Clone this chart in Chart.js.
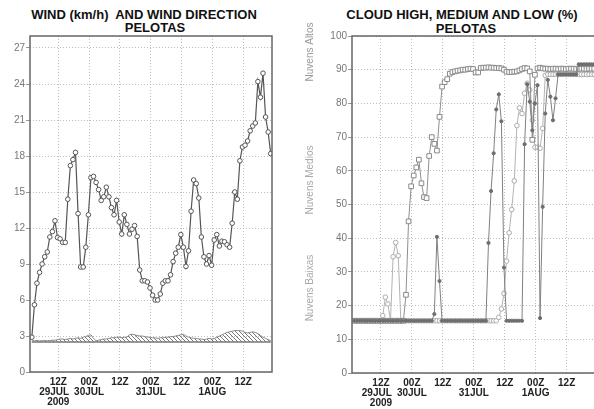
<!DOCTYPE html>
<html>
<head>
<meta charset="utf-8">
<script src="https://cdn.jsdelivr.net/npm/chart.js@4.4.1/dist/chart.umd.min.js"></script>
<style>
  body { margin: 0; background: #fff; overflow: hidden; width: 594px; height: 409px; position: relative; font-family: "Liberation Sans", Arial, sans-serif; }
  canvas { position: absolute; top: 0; }
  .title { position: absolute; width: 300px; text-align: center; font-weight: bold; font-size: 13px; line-height: 14px; color: #111; white-space: pre; }
</style>
</head>
<body>
<div class="title" style="left:-6px;top:8px">WIND (km/h)  AND WIND DIRECTION</div>
<div class="title" style="left:5px;top:21px">PELOTAS</div>
<div class="title" style="left:312px;top:8px">CLOUD HIGH, MEDIUM AND LOW (%)</div>
<div class="title" style="left:316px;top:22px">PELOTAS</div>
<canvas id="wind" width="290" height="409" style="left:0"></canvas>
<canvas id="cloud" width="304" height="409" style="left:296px"></canvas>
<script>
// hourly model output, hours counted from 00Z 29JUL 2009
const START = 1.7;
const tickHours = [12, 24, 36, 48, 60, 72, 84];
const tickLabels = [['12Z', '29JUL   ', '2009'], ['00Z', '30JUL'], ['12Z'], ['00Z', '31JUL'], ['12Z'], ['00Z', '1AUG'], ['12Z']];
const windTicks = [0, 3, 6, 9, 12, 15, 18, 21, 24, 27];
const cloudTicks = [0, 10, 20, 30, 40, 50, 60, 70, 80, 90, 100];
const cloudNames = ['Nuvens Altos', 'Nuvens Medios', 'Nuvens Baixas'];

// wind speed (km/h)
const wind = [2.9, 5.6, 7.4, 8.3, 9.0, 9.6, 10.0, 11.25, 11.7, 12.6,
  11.2, 11.1, 10.8, 10.8, 14.4, 17.2, 17.7, 18.3, 13.2, 8.75,
  8.75, 10.4, 13.1, 16.2, 16.3, 15.8, 15.2, 14.3, 14.6, 15.4,
  14.6, 13.7, 13.1, 14.3, 12.5, 11.5, 13.1, 12.3, 11.5, 11.9,
  12.2, 11.3, 8.5, 7.6, 7.6, 7.5, 7.0, 6.4, 6.0, 6.0,
  6.5, 7.4, 7.6, 7.6, 8.1, 9.2, 9.9, 10.4, 11.45, 10.4,
  8.8, 10.1, 13.4, 16.0, 15.7, 14.5, 11.25, 9.6, 9.0, 9.7,
  8.9, 11.0, 11.45, 10.5, 10.9, 10.85, 10.6, 10.4, 12.4, 15.0,
  14.4, 17.6, 18.75, 18.9, 19.25, 20.1, 20.5, 20.75, 24.2, 22.9,
  24.9, 21.25, 20.0, 18.2];

// top of the wind direction band (base at 2.5)
const dirBase = 2.5;
const windDir = [2.6, 2.6, 2.62, 2.6, 2.6, 2.62, 2.6, 2.62, 2.65, 2.65,
  2.7, 2.75, 2.75, 2.7, 2.75, 2.8, 2.75, 2.8, 2.85, 2.8,
  2.9, 2.95, 3.05, 3.1, 2.8, 2.6, 2.65, 2.7, 2.75, 2.75,
  2.8, 2.85, 2.85, 2.9, 2.9, 2.85, 2.9, 2.9, 3.1, 3.15,
  3.1, 3.05, 3.0, 3.0, 2.95, 2.9, 2.9, 2.85, 2.85, 2.8,
  2.85, 2.85, 2.9, 2.9, 2.95, 2.95, 3.0, 3.05, 3.1, 3.15,
  3.0, 2.9, 2.85, 2.8, 2.8, 2.75, 2.75, 2.7, 2.75, 2.8,
  2.75, 2.8, 2.9, 3.0, 3.1, 3.2, 3.3, 3.35, 3.4, 3.45,
  3.45, 3.45, 3.4, 3.3, 3.25, 3.3, 3.35, 3.3, 3.2, 3.05,
  2.9, 2.8, 2.7, 2.6];

// cloud cover (%)
const cloudHigh = [15.5, 15.5, 15.5, 15.5, 15.5, 15.5, 15.5, 15.5, 15.5, 15.5,
  15.5, 15.5, 15.5, 15.5, 15.5, 15.5, 15.5, 15.5, 15.5, 15.5,
  23.2, 45, 55.4, 58.6, 61, 63.3, 56.3, 52.2, 51.9, 64.4,
  70, 68, 66, 76, 85, 86.3, 87.2, 88.8, 89.3, 89.5,
  89.7, 89.8, 90, 90, 90.2, 90.3, 90.2, 89.2, 89.2, 90.5,
  90.6, 90.6, 90.7, 90.6, 90.6, 90.5, 90.5, 90.4, 90, 89.4,
  89.3, 89.3, 89.4, 89.5, 89.8, 90.2, 90.5, 90.4, 89.5, 69.2,
  88.5, 90.4, 90.6, 90.4, 90.3, 90.3, 90.2, 90.3, 90.3, 90.2,
  90.3, 90.3, 90.2, 90.3, 90.3, 90.3, 90.2, 90.3, 90.3, 90.3,
  90.2, 90.3, 90.3, 90.3];
const cloudMedium = [15.5, 15.5, 15.5, 15.5, 15.5, 15.5, 15.5, 15.5, 15.5, 15.5,
  15.5, 17.0, 22.5, 20.5, 15.5, 34.5, 38.7, 34.8, 15.5, 15.5,
  15.5, 15.5, 15.5, 15.5, 15.5, 15.5, 15.5, 15.5, 15.5, 15.5,
  15.5, 15.5, 15.5, 15.5, 15.5, 15.5, 15.5, 15.5, 15.5, 15.5,
  15.5, 15.5, 15.5, 15.5, 15.5, 15.5, 15.5, 15.5, 15.5, 15.5,
  15.5, 15.5, 15.5, 15.5, 15.5, 15.5, 16.5, 19, 23.6, 33.2,
  41.6, 48.5, 57, 73.4, 78.7, 77, 83, 86, 84, 75,
  67, 67, 66.7, 72.6, 88.3, 88.6, 88.6, 88.6, 88.6, 88.6,
  88.6, 88.6, 88.6, 88.6, 88.6, 88.6, 88.6, 88.6, 88.6, 88.6,
  88.6, 88.6, 88.6, 88.6];
const cloudLow = [15.5, 15.5, 15.5, 15.5, 15.5, 15.5, 15.5, 15.5, 15.5, 15.5,
  15.5, 15.5, 15.5, 15.5, 15.5, 15.5, 15.5, 15.5, 15.5, 15.5,
  15.5, 15.5, 15.5, 15.5, 15.5, 15.5, 15.5, 15.5, 15.5, 15.5,
  15.5, 17.5, 40.4, 27.3, 15.5, 15.5, 15.5, 15.5, 15.5, 15.5,
  15.5, 15.5, 15.5, 15.5, 15.5, 15.5, 15.5, 15.5, 15.5, 15.5,
  15.5, 15.5, 38.6, 54, 65.2, 78.2, 82.7, 74.7, 31.3, 15.5,
  15.5, 15.5, 15.5, 15.5, 15.5, 15.5, 67.9, 85.7, 80.5, 72,
  80, 85.4, 16.3, 49.3, 77, 87, 82, 75, 81.5, 88.6,
  88.6, 88.6, 88.6, 88.6, 88.6, 88.6, 88.6, 91.6, 91.6, 91.6,
  91.6, 91.6, 91.6, 91.6];

const hours = wind.map((v, i) => START + i);
const pts = arr => arr.map((v, i) => ({ x: hours[i], y: v }));

function hatch() {
  const c = document.createElement('canvas');
  c.width = 4; c.height = 4;
  const g = c.getContext('2d');
  g.strokeStyle = '#777';
  g.lineWidth = 1;
  g.beginPath();
  g.moveTo(0, 0); g.lineTo(4, 4);
  g.moveTo(-1, 3); g.lineTo(1, 5);
  g.moveTo(3, -1); g.lineTo(5, 1);
  g.stroke();
  return g.createPattern(c, 'repeat');
}

const tickFont = { family: 'Liberation Sans', size: 10 };

function xAxis(min, max, h) {
  return {
    type: 'linear', min: min, max: max,
    afterBuildTicks: s => { s.ticks = tickHours.map(v => ({ value: v })); },
    afterFit: s => { s.height = h; },
    grid: { color: '#bdbdbd', drawTicks: false },
    border: { display: false, dash: [1, 2] },
    ticks: {
      autoSkip: false, maxRotation: 0, padding: 5, color: '#222',
      font: { family: 'Liberation Sans', size: 10, weight: 'bold', lineHeight: 1.0 },
      callback: (v, i) => tickLabels[i]
    }
  };
}

function yAxis(min, max, ticks, w) {
  return {
    min: min, max: max,
    afterBuildTicks: s => { s.ticks = ticks.map(v => ({ value: v })); },
    afterFit: s => { s.width = w; },
    grid: { color: '#bdbdbd', tickColor: '#999', tickLength: 4 },
    border: { display: false, dash: [1, 2] },
    ticks: { padding: 1, color: '#777', font: tickFont }
  };
}

const frame = {
  id: 'frame',
  afterDatasetsDraw(chart) {
    const { ctx, chartArea: a } = chart;
    ctx.save();
    ctx.strokeStyle = '#666';
    ctx.lineWidth = 1.5;
    ctx.strokeRect(a.left, a.top, a.right - a.left, a.bottom - a.top);
    ctx.restore();
  }
};

const names = {
  id: 'names',
  afterDraw(chart) {
    const ctx = chart.ctx;
    const ys = [52, 180, 288];
    const cols = ['#999', '#aaa', '#aaa'];
    ctx.save();
    ctx.font = '10px "Liberation Sans"';
    ctx.textAlign = 'center';
    ctx.textBaseline = 'middle';
    cloudNames.forEach((n, i) => {
      ctx.save();
      ctx.translate(14, ys[i]);
      ctx.rotate(-Math.PI / 2);
      ctx.fillStyle = cols[i];
      ctx.fillText(n, 0, 0);
      ctx.restore();
    });
    ctx.restore();
  }
};

const common = {
  responsive: false,
  animation: false,
  devicePixelRatio: 1,
  plugins: { legend: { display: false }, tooltip: { enabled: false } },
  elements: { line: { tension: 0 } }
};

new Chart(document.getElementById('wind'), {
  type: 'line',
  data: {
    datasets: [
      {
        data: pts(wind), borderColor: '#555', borderWidth: 1.2,
        pointRadius: 2.3, pointBackgroundColor: '#fff', pointBorderColor: '#555', pointBorderWidth: 1
      },
      {
        data: pts(windDir), borderColor: '#888', borderWidth: 1, pointRadius: 0,
        fill: { value: dirBase }, backgroundColor: hatch()
      },
      {
        data: [{ x: hours[0], y: dirBase }, { x: hours[hours.length - 1], y: dirBase }],
        borderColor: '#777', borderWidth: 1.5, pointRadius: 0
      }
    ]
  },
  options: Object.assign({}, common, {
    layout: { padding: { left: 0, top: 36, right: 18, bottom: 0 } },
    scales: {
      x: xAxis(0.98, 95.2, 37),
      y: yAxis(0, 28, windTicks, 30)
    }
  }),
  plugins: [frame]
});

new Chart(document.getElementById('cloud'), {
  type: 'line',
  data: {
    datasets: [
      {
        label: cloudNames[2], data: pts(cloudLow), borderColor: '#808080', borderWidth: 1,
        pointStyle: 'circle', pointRadius: 1.6, pointBackgroundColor: '#6e6e6e', pointBorderColor: '#6e6e6e'
      },
      {
        label: cloudNames[0], data: pts(cloudHigh), borderColor: '#8f8f8f', borderWidth: 1,
        pointStyle: 'rect', pointRadius: 3.3, pointBackgroundColor: '#fff', pointBorderColor: '#8a8a8a', pointBorderWidth: 1
      },
      {
        label: cloudNames[1], data: pts(cloudMedium), borderColor: '#b3b3b3', borderWidth: 1,
        pointStyle: 'circle', pointRadius: 2.3, pointBackgroundColor: '#fff', pointBorderColor: '#aaa', pointBorderWidth: 1
      }
    ]
  },
  options: Object.assign({}, common, {
    layout: { padding: { left: 0, top: 36, right: 4.5, bottom: 0 } },
    scales: {
      x: xAxis(0.77, 95.0, 36),
      y: yAxis(0, 100, cloudTicks, 56)
    }
  }),
  plugins: [frame, names]
});
</script>
</body>
</html>
